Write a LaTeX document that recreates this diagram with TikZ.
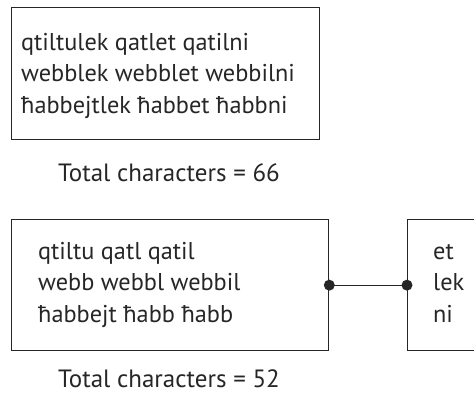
\documentclass[tikz,border=0pt]{standalone}
\usepackage{fontspec}
\setmainfont{PT Sans}
\begin{document}
\begin{tikzpicture}[x=1pt,y=-1pt,
  box/.style={draw=black!85,line width=1.3pt,inner sep=0pt,anchor=north west},
  % multi-line word lists sit on the baseline of their last line
  words/.style={inner sep=0pt,anchor=base west,align=left,text=black!85,
    font=\fontsize{24.3}{31.5}\selectfont},
  total/.style={inner sep=0pt,anchor=base west,text=black!85,
    font=\fontsize{25}{30}\selectfont},
  conn/.style={line width=1.3pt,draw=black!85},
  dot/.style={circle,fill=black!85,inner sep=0pt,minimum size=11pt}]
\useasboundingbox (0,0) rectangle (474,392);
\clip (0,0) rectangle (474,392);
% uncompressed word list
\node[box,minimum width=308pt,minimum height=132pt] (full) at (11,7) {};
\node[words] (fulltext) at (21,113)
  {qtiltulek qatlet qatilni\\webblek webblet webbilni\\ħabbejtlek ħabbet ħabbni};
\node[total] (fulltotal) at (58,181) {Total characters = 66};
% stems and shared endings
\node[box,minimum width=317pt,minimum height=131pt] (stems) at (11,219) {};
\node[words] (stemtext) at (38,322)
  {qtiltu qatl qatil\\webb webbl webbil\\ħabbejt ħabb ħabb};
\node[box,minimum width=100pt,minimum height=131pt] (ends) at (407,219) {};
\node[words] (endtext) at (433,322) {et\\lek\\ni};
\node[total] (splittotal) at (58,387) {Total characters = 52};
\draw[conn] (stems.east) -- (ends.west);
\node[dot] (d1) at (stems.east) {};
\node[dot] (d2) at (ends.west) {};
\end{tikzpicture}
\end{document}
